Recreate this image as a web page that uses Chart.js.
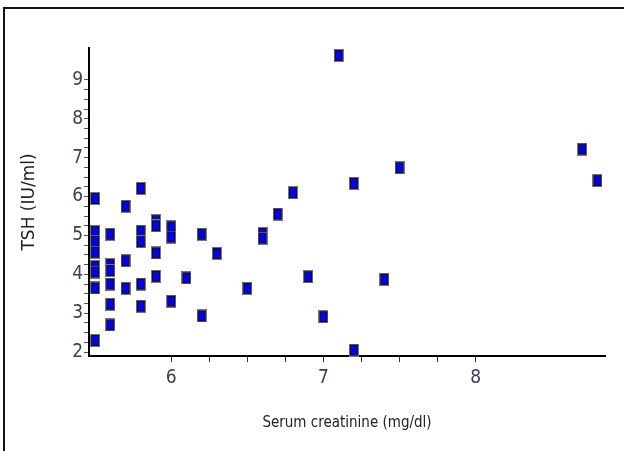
<!DOCTYPE html>
<html>
<head>
<meta charset="utf-8">
<script src="https://cdn.jsdelivr.net/npm/chart.js@4/dist/chart.umd.min.js"></script>
<style>
  html, body { margin: 0; padding: 0; background: #fff; overflow: hidden; }
  #wrap { position: relative; width: 624px; height: 451px; }
  #frame { position: absolute; left: 3px; top: 7px; width: 700px; height: 500px; border: 2px solid #111; }
  #chart { position: absolute; left: 0; top: 0; }
</style>
</head>
<body>
<div id="wrap">
  <div id="frame"></div>
  <canvas id="chart" width="624" height="451"></canvas>
</div>
<script>
// Serum creatinine (mg/dl) and TSH (IU/ml), one entry per patient
const creatinine = [
  5.5, 5.5, 5.5, 5.5, 5.5, 5.5, 5.5, 5.5,
  5.6, 5.6, 5.6, 5.6, 5.6, 5.6,
  5.7, 5.7, 5.7,
  5.8, 5.8, 5.8, 5.8, 5.8,
  5.9, 5.9, 5.9, 5.9,
  6.0, 6.0, 6.0,
  6.1, 6.2, 6.2, 6.3, 6.5, 6.6, 6.6, 6.7, 6.8, 6.9, 7.0,
  7.1, 7.2, 7.2, 7.4, 7.5, 8.7, 8.8
];
const tsh = [
  5.95, 5.1, 4.85, 4.57, 4.2, 4.06, 3.65, 2.3,
  5.03, 4.25, 4.1, 3.75, 3.23, 2.7,
  5.75, 4.35, 3.64,
  6.21, 5.11, 4.84, 3.75, 3.18,
  5.38, 5.25, 4.55, 3.95,
  5.22, 4.96, 3.31,
  3.91, 5.03, 2.93, 4.54, 3.64, 5.05, 4.93, 5.55, 6.1, 3.94, 2.91,
  9.63, 6.34, 2.05, 3.87, 6.74, 7.22, 6.41
];
const xTickLabels = [6, 7, 8];
const yTickLabels = [2, 3, 4, 5, 6, 7, 8, 9];

const points = creatinine.map((x, i) => ({ x: x, y: tsh[i] }));

// blue square marker, a bit taller than wide
function makeMarker() {
    const c = document.createElement('canvas');
    c.width = 10;
    c.height = 13;
    const g = c.getContext('2d');
    g.fillStyle = '#777';
    g.fillRect(0, 0, 10, 13);
    g.fillStyle = '#111';
    g.fillRect(1, 1, 8, 11);
    g.fillStyle = '#0000ff';
    g.fillRect(2, 2, 6, 9);
    return c;
}

const narrow = "'DejaVu Sans Condensed', 'Liberation Sans Narrow', sans-serif";
const tickFont = { family: narrow, size: 19 };

new Chart(document.getElementById('chart'), {
    type: 'scatter',
    data: {
        datasets: [{
            data: points,
            pointStyle: makeMarker(),
            pointRadius: 6,
            pointHoverRadius: 6,
            clip: false
        }]
    },
    options: {
        responsive: false,
        animation: false,
        events: [],
        layout: { padding: { top: 48, right: 19, left: 0, bottom: 0 } },
        plugins: { legend: { display: false }, tooltip: { enabled: false } },
        scales: {
            x: {
                type: 'linear',
                min: 5.46,
                max: 8.85,
                afterFit: (s) => { s.height = 95; },
                border: { display: true, color: '#000', width: 2 },
                grid: {
                    drawOnChartArea: false,
                    tickLength: 6,
                    tickWidth: 1,
                    tickColor: (c) => (c.tick && c.tick.value >= 6 && c.tick.value <= 8) ? '#333' : 'rgba(0,0,0,0)'
                },
                ticks: {
                    stepSize: 0.25,
                    includeBounds: false,
                    autoSkip: false,
                    maxRotation: 0,
                    padding: 5,
                    color: '#3d3d55',
                    font: tickFont,
                    callback: (v) => xTickLabels.includes(v) ? String(v) : ''
                },
                title: {
                    display: true,
                    text: 'Serum creatinine (mg/dl)',
                    color: '#222',
                    font: { family: narrow, size: 15 },
                    padding: { top: 0, bottom: 19 }
                }
            },
            y: {
                type: 'linear',
                min: 1.9,
                max: 9.82,
                afterFit: (s) => { s.width = 89; },
                border: { display: true, color: '#000', width: 2 },
                grid: {
                    drawOnChartArea: false,
                    tickLength: 5,
                    tickWidth: 1,
                    tickColor: (c) => (c.tick && c.tick.value >= 2 && c.tick.value <= 9) ? '#555' : 'rgba(0,0,0,0)'
                },
                ticks: {
                    stepSize: 0.25,
                    includeBounds: false,
                    autoSkip: false,
                    padding: 1,
                    color: '#3d3d55',
                    font: tickFont,
                    callback: (v) => yTickLabels.includes(v) ? String(v) : ''
                },
                title: {
                    display: true,
                    text: 'TSH (IU/ml)',
                    color: '#222',
                    font: { family: "'DejaVu Sans', sans-serif", size: 17 },
                    padding: { top: 19, bottom: 0 }
                }
            }
        }
    }
});
</script>
</body>
</html>
